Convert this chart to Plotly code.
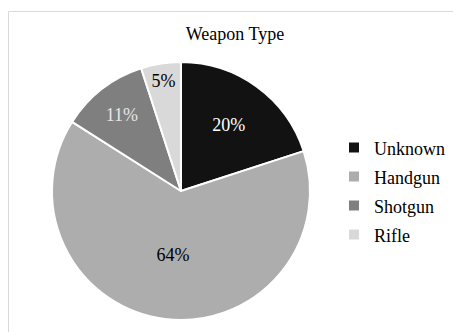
import plotly.graph_objects as go

categories = ["Unknown", "Handgun", "Shotgun", "Rifle"]
values = [20, 64, 11, 5]
colors = ["#121212", "#ADADAD", "#7F7F7F", "#D9D9D9"]
text_colors = ["#FFFFFF", "#000000", "#E6E6E6", "#000000"]

W, H = 453, 332
cx, cy, r = 181, 191, 129
FONT = "Liberation Serif, Times New Roman, serif"

legend_labels = ["<span style='font-size:18px'>%s</span>" % c for c in categories]

fig = go.Figure(go.Pie(
    labels=legend_labels,
    values=values,
    sort=False,
    direction="clockwise",
    rotation=0,
    marker=dict(colors=colors, line=dict(color="#FFFFFF", width=2)),
    textinfo="percent",
    texttemplate="%{percent:.0%}",
    textposition="inside",
    insidetextorientation="horizontal",
    insidetextfont=dict(family=FONT, size=18, color=text_colors),
    domain=dict(x=[(cx - r) / W, (cx + r) / W], y=[1 - (cy + r) / H, 1 - (cy - r) / H]),
    hoverinfo="skip",
))

fig.update_layout(
    width=W, height=H,
    margin=dict(l=0, r=0, t=0, b=0),
    paper_bgcolor="#FFFFFF",
    font=dict(family=FONT, size=18, color="#000000"),
    title=dict(text="Weapon Type", x=235 / W, xanchor="center", xref="paper",
               y=1 - 34 / H, yanchor="middle", yref="paper",
               font=dict(family=FONT, size=18, color="#000000")),
    legend=dict(x=334 / W, y=1 - 191 / H, xanchor="left", yanchor="middle",
                font=dict(family=FONT, size=20, color="#000000"),
                bgcolor="rgba(0,0,0,0)"),
    shapes=[dict(type="rect", xref="paper", yref="paper",
                 x0=8.5 / W, x1=1.1, y0=-0.1, y1=1 - 11.5 / H,
                 line=dict(color="#D9D9D9", width=1), layer="below")],
    showlegend=True,
)

fig.write_html("out.html")
